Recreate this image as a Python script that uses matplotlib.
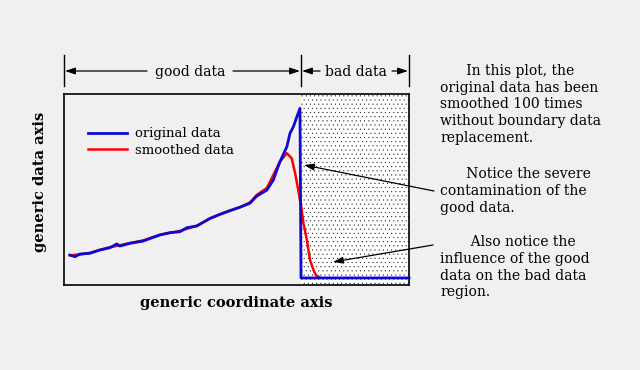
import matplotlib
matplotlib.use("Agg")
import matplotlib.pyplot as plt

# original (noisy) data, good region then the bad-data step
x_orig = [1.7, 3.2, 4.6, 7.5, 10.4, 13.3, 15.3, 16.2, 19.1, 22.9, 27.8, 30.7, 33.6, 35.6,
          38.5, 42.3, 45.2, 48.1, 51.0, 53.9, 55.9, 58.8, 60.7, 61.7, 62.6, 64.6, 65.5,
          66.5, 67.5, 68.4, 68.7, 100.0]
y_orig = [1.57, 1.48, 1.62, 1.66, 1.83, 1.95, 2.15, 2.04, 2.18, 2.30, 2.62, 2.74, 2.79, 3.00,
          3.09, 3.49, 3.70, 3.89, 4.07, 4.28, 4.66, 4.97, 5.50, 6.02, 6.46, 7.24, 7.94,
          8.29, 8.81, 9.25, 0.37, 0.37]

# smoothed data (100 passes)
x_smooth = [1.7, 4.6, 7.5, 10.4, 13.3, 16.2, 19.1, 22.9, 27.8, 30.7, 33.6, 38.5, 42.3, 45.2,
            48.1, 51.0, 53.9, 55.9, 58.8, 61.7, 62.6, 64.6, 66.0, 67.0, 67.9, 68.9, 69.4,
            70.4, 71.3, 72.3, 73.0, 74.0]
y_smooth = [1.55, 1.60, 1.68, 1.84, 1.98, 2.08, 2.20, 2.33, 2.63, 2.73, 2.83, 3.10, 3.47, 3.70,
            3.90, 4.08, 4.32, 4.72, 5.08, 6.13, 6.46, 6.90, 6.63, 5.85, 4.97, 3.93, 3.23,
            2.36, 1.31, 0.79, 0.52, 0.40]

boundary = 68.7
legend_labels = ['original data', 'smoothed data']
note_1 = "      In this plot, the\noriginal data has been\nsmoothed 100 times\nwithout boundary data\nreplacement."
note_2 = "      Notice the severe\ncontamination of the\ngood data."
note_3 = "       Also notice the\ninfluence of the good\ndata on the bad data\nregion."

BG = '#f0f0f0'
BLUE = '#0a0ad2'
RED = '#ff0000'
W, H = 640, 370

plt.rcParams['font.family'] = ['DejaVu Serif']
plt.rcParams['hatch.linewidth'] = 0.2

fig = plt.figure(figsize=(6.4, 3.7), dpi=100, facecolor=BG)
ax = fig.add_axes([64 / W, 1 - 285 / H, 345 / W, 191 / H])
ax.set_facecolor(BG)

ax.axvspan(boundary, 100, facecolor='white', edgecolor='black', hatch='....', linewidth=0, zorder=0)
l_s, = ax.plot(x_smooth, y_smooth, color=RED, lw=1.8, zorder=2)
l_o, = ax.plot(x_orig, y_orig, color=BLUE, lw=2.0, zorder=3, clip_on=False)

ax.set_xlim(0, 100)
ax.set_ylim(0, 10)
ax.set_xticks([])
ax.set_yticks([])
for s in ax.spines.values():
    s.set_linewidth(1.2)

ax.legend([l_o, l_s], legend_labels, loc='upper left', bbox_to_anchor=(0.05, 0.86), frameon=False,
          fontsize=9.5, handlelength=3.0, handletextpad=0.6, labelspacing=0.25, borderpad=0)

ax.set_xlabel('generic coordinate axis', fontsize=10.5, fontweight='bold', labelpad=8)
ax.set_ylabel('generic data axis', fontsize=10.5, fontweight='bold')
ax.yaxis.set_label_coords(-0.05, 0.54)


def px(x, y):
    # top-left pixel -> figure pixels
    return (x, H - y)


# range markers above the plot
for xv in [64, 301, 409]:
    fig.add_artist(plt.Line2D([xv / W, xv / W], [1 - 55 / H, 1 - 86 / H], color='black', lw=1))

arr = dict(arrowstyle='-|>,head_length=0.6,head_width=0.2', color='black', lw=0.9,
           shrinkA=0, shrinkB=0)
fig.text(190 / W, 1 - 72 / H, 'good data', ha='center', va='center', fontsize=10)
fig.text(356 / W, 1 - 72 / H, 'bad data', ha='center', va='center', fontsize=10)
for a, b in [((147, 71), (65, 71)), ((233, 71), (300, 71)), ((320, 71), (302, 71)), ((392, 71), (408, 71))]:
    ax.annotate('', xy=px(*b), xytext=px(*a), xycoords='figure pixels',
                textcoords='figure pixels', arrowprops=arr, annotation_clip=False)

# notes on the right
fig.text(440 / W, 1 - 64 / H, note_1, ha='left', va='top', fontsize=10, linespacing=1.25)
fig.text(440 / W, 1 - 167 / H, note_2, ha='left', va='top', fontsize=10, linespacing=1.25)
fig.text(440 / W, 1 - 235 / H, note_3, ha='left', va='top', fontsize=10, linespacing=1.25)

ax.annotate('', xy=px(304, 165), xytext=px(434, 191), xycoords='figure pixels',
            textcoords='figure pixels', arrowprops=arr, annotation_clip=False)
ax.annotate('', xy=px(333, 262), xytext=px(433, 245), xycoords='figure pixels',
            textcoords='figure pixels', arrowprops=arr, annotation_clip=False)

fig.savefig('out.png', dpi=100, facecolor=BG)
